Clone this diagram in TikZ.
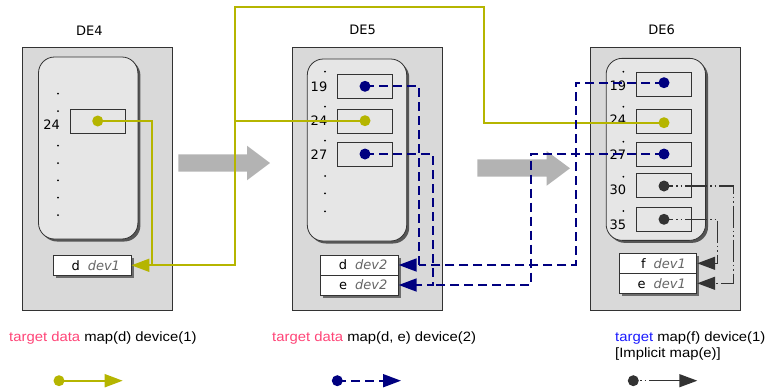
\documentclass[tikz,border=0pt]{standalone}
\usepackage{fontspec}
\setmainfont{DejaVu Sans}
\newfontfamily\lblfont[FakeStretch=1.1]{Liberation Sans}
\usetikzlibrary{arrows.meta,shadows}
\definecolor{olivec}{HTML}{B5B500}
\definecolor{navyc}{HTML}{000080}
\definecolor{darkc}{HTML}{333333}
\definecolor{panelc}{HTML}{D9D9D9}
\definecolor{innerc}{HTML}{E6E6E6}
\definecolor{bigarrowc}{HTML}{B3B3B3}
\definecolor{pinkc}{HTML}{FF4477}
\definecolor{bluec}{HTML}{1A1AFF}
\definecolor{devc}{HTML}{666666}
\begin{document}
\begin{tikzpicture}[x=1pt,y=-1pt,
  font=\fontsize{13}{15}\selectfont,
  panel/.style={draw=darkc, fill=panelc, line width=0.8pt, inner sep=0pt, minimum width=150pt, minimum height=262.7pt},
  memory/.style={draw=darkc, fill=innerc, line width=0.8pt, rounded corners=16pt, inner sep=0pt, minimum width=99.4pt, minimum height=182pt, drop shadow={shadow xshift=2.5pt, shadow yshift=-2.5pt, opacity=0.6, fill=black}},
  cell/.style={draw=darkc, fill=innerc, line width=0.8pt, inner sep=0pt, minimum width=55pt, minimum height=24pt},
  devbox/.style={draw=darkc, fill=white, line width=0.8pt, inner sep=0pt, minimum width=77.6pt, minimum height=20pt, text width=55.6pt, align=right, drop shadow={shadow xshift=2.5pt, shadow yshift=-2.5pt, opacity=0.5, fill=black}},
  dot/.style={circle, inner sep=0pt, minimum size=11pt},
  tick/.style={circle, fill=black, inner sep=0pt, minimum size=2pt},
  lab/.style={inner sep=0pt},
  lbl/.style={inner sep=0pt, font=\lblfont\fontsize{13.5}{16}\selectfont},
  oline/.style={draw=olivec, line width=1.8pt},
  bline/.style={draw=navyc, line width=1.8pt, dash pattern=on 9pt off 5pt},
  gline/.style={draw=darkc, line width=1.4pt, dash pattern=on 22pt off 3pt on 1.5pt off 3pt on 1.5pt off 3pt, dash phase=13pt},
  glegend/.style={draw=darkc, line width=1.4pt, dash pattern=on 1.5pt off 3pt on 1.5pt off 3pt on 50pt off 6.7pt, dash phase=59pt},
  otip/.style={-{Triangle[length=18pt,width=13pt]}},
]
\useasboundingbox (0,0) rectangle (766,391);

% titles
\node[lab] (t4) at (89.3,30.7) {DE4};
\node[lab] (t5) at (362.7,30) {DE5};
\node[lab] (t6) at (661.7,30) {DE6};

% big gray arrows
\fill[bigarrowc] (178.3,154.3) -- (247,154.3) -- (247,145.7) -- (270,163) -- (247,180.3) -- (247,171.7) -- (178.3,171.7) -- cycle;
\fill[bigarrowc] (477.3,159.3) -- (546.7,159.3) -- (546.7,151) -- (570,168.3) -- (546.7,185.7) -- (546.7,176.7) -- (477.3,176.7) -- cycle;

% DE4
\node[panel] (p4) at (97,178.65) {};
\node[memory] (m4) at (88.2,148) {};
\node[cell] (c4x24) at (97.7,121.3) {};
\node[devbox] (v4d) at (92.2,265.3) {d\hspace{8pt}\textcolor{devc}{\itshape dev1}};
\foreach \y in {93.7,111,145.7,163,180.3,197.7,215} \node[tick] at (58,\y) {};
\node[lab] (l4x24) at (51.7,125) {24};

% DE5
\node[panel] (p5) at (367.5,178.65) {};
\node[memory] (m5) at (357,150) {};
\node[cell] (c5x19) at (365,86.2) {};
\node[cell] (c5x24) at (365,121.2) {};
\node[cell] (c5x27) at (365,154.3) {};
\node[devbox] (v5d) at (359.5,265) {d\hspace{8pt}\textcolor{devc}{\itshape dev2}};
\node[devbox] (v5e) at (359.5,285) {e\hspace{8pt}\textcolor{devc}{\itshape dev2}};
\foreach \y in {71.7,106.7,140.7,176,193.3,211.3} \node[tick] at (325,\y) {};
\node[lab] (l5x19) at (319,86.3) {19};
\node[lab] (l5x24) at (319,120.5) {24};
\node[lab] (l5x27) at (319,155) {27};

% DE6
\node[panel] (p6) at (665.5,178.65) {};
\node[memory] (m6) at (655.85,149.35) {};
\node[cell] (c6x19) at (663.65,84) {};
\node[cell] (c6x24) at (663.65,121) {};
\node[cell] (c6x27) at (663.65,154.2) {};
\node[cell] (c6x30) at (663.65,185.7) {};
\node[cell] (c6x35) at (663.65,219.3) {};
\node[devbox] (v6f) at (658,263.3) {f\hspace{8pt}\textcolor{devc}{\itshape dev1}};
\node[devbox] (v6e) at (658,283.3) {e\hspace{8pt}\textcolor{devc}{\itshape dev1}};
\foreach \y in {71.7,106.7,141.7,176.7,211} \node[tick] at (623.3,\y) {};
\node[lab] (l6x19) at (617.8,86) {19};
\node[lab] (l6x24) at (617.8,120) {24};
\node[lab] (l6x27) at (617.8,155) {27};
\node[lab] (l6x30) at (617.8,190) {30};
\node[lab] (l6x35) at (617.8,225) {35};

% dot positions
\coordinate (d4x24) at (97.7,121);
\coordinate (d5x19) at (365,86.3);
\coordinate (d5x24) at (365,120.7);
\coordinate (d5x27) at (365,154);
\coordinate (d6x19) at (664,82.7);
\coordinate (d6x24) at (664,122.7);
\coordinate (d6x27) at (664,154);
\coordinate (d6x30) at (664,186);
\coordinate (d6x35) at (664,219.3);

% olive connectors
\coordinate (o4) at (152.3,265.3);
\coordinate (o5) at (235.3,265.3);
\coordinate (otop) at (484.3,6.7);
\draw[oline,otip] (d4x24) -| (o4) -- (v4d.east);
\draw[oline] (d5x24) -| (o5) -- (o4);
\draw[oline] (d6x24) -| (otop) -| (o5);

% blue connectors
\coordinate (b19) at (419.3,265);
\coordinate (b19r) at (575.7,265);
\coordinate (b27) at (433,285);
\coordinate (b27r) at (530.7,285);
\draw[bline,otip] (d5x19) -| (b19) -- (v5d.east);
\draw[bline] (d6x19) -| (b19r) -- (b19);
\draw[bline,otip] (d5x27) -| (b27) -- (v5e.east);
\draw[bline] (d6x27) -| (b27r) -- (b27);

% dark connectors
\coordinate (g30) at (733.3,283.3);
\coordinate (g35) at (717.7,263.3);
\draw[gline,otip] (d6x30) -| (g30) -- (v6e.east);
\draw[gline,otip] (d6x35) -| (g35) -- (v6f.east);

% dots
\node[dot,fill=olivec] (n4x24) at (d4x24) {};
\node[dot,fill=navyc] (n5x19) at (d5x19) {};
\node[dot,fill=olivec] (n5x24) at (d5x24) {};
\node[dot,fill=navyc] (n5x27) at (d5x27) {};
\node[dot,fill=navyc] (n6x19) at (d6x19) {};
\node[dot,fill=olivec] (n6x24) at (d6x24) {};
\node[dot,fill=navyc] (n6x27) at (d6x27) {};
\node[dot,fill=darkc] (n6x30) at (d6x30) {};
\node[dot,fill=darkc] (n6x35) at (d6x35) {};

% captions
\node[lbl,anchor=west] (cap4) at (9,338) {\textcolor{pinkc}{target data} map(d) device(1)};
\node[lbl,anchor=west] (cap5) at (272,338) {\textcolor{pinkc}{target data} map(d, e) device(2)};
\node[lbl,anchor=west] (cap6) at (615,338) {\textcolor{bluec}{target} map(f) device(1)};
\node[lbl,anchor=west] (cap6b) at (615,354) {[Implicit map(e)]};

% legend
\coordinate (lo) at (59,380.7);
\coordinate (loe) at (122.7,380.7);
\coordinate (lb) at (337.3,380.7);
\coordinate (lbe) at (401,380.7);
\coordinate (lg) at (633.3,380.7);
\coordinate (lge) at (697.3,380.7);
\draw[oline,otip] (lo) -- (loe);
\draw[bline,otip] (lb) -- (lbe);
\draw[glegend,otip] (lg) -- (lge);
\node[dot,fill=olivec] (lon) at (lo) {};
\node[dot,fill=navyc] (lbn) at (lb) {};
\node[dot,fill=darkc] (lgn) at (lg) {};
\end{tikzpicture}
\end{document}
